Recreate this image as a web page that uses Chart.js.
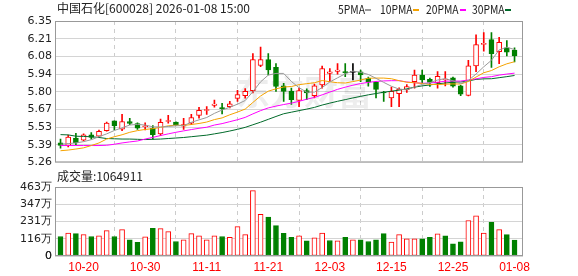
<!DOCTYPE html>
<html>
<head>
<meta charset="utf-8">
<script src="https://cdn.jsdelivr.net/npm/chart.js@4.4.1/dist/chart.umd.min.js"></script>
<style>
html, body { margin: 0; padding: 0; background: #fff; }
#wrap { position: relative; width: 578px; height: 276px; overflow: hidden; color: #222; }
#priceChart { position: absolute; left: 0; top: 0; }
#volChart { position: absolute; left: 0; top: 172px; }
.txt { position: absolute; white-space: nowrap; font-family: "Noto Sans CJK SC", sans-serif; font-size: 12px; line-height: 14px; }
.leg { transform: scaleX(0.86); transform-origin: left center; }
.dash { position: absolute; width: 6px; height: 2px; top: 9px; }
#zero { position: absolute; left: 0; top: 249px; width: 52px; text-align: right; font: 11px "DejaVu Sans"; line-height: 14px; color: #222; }
</style>
</head>
<body>
<div id="wrap">
  <canvas id="priceChart" width="578" height="172"></canvas>
  <canvas id="volChart" width="578" height="104"></canvas>
  <div class="txt" style="left:57px;top:1px;">中国石化[600028] 2026-01-08 15:00</div>
  <div class="txt" style="left:57px;top:169px;">成交量:1064911</div>
  <div id="zero"></div>
  <div id="legend"></div>
</div>
<script>
// trading days shown (MM-DD)
const DATES = ['10-15','10-16','10-17','10-20','10-21','10-22','10-23','10-24','10-27','10-28',
  '10-29','10-30','10-31','11-03','11-04','11-05','11-06','11-07','11-10','11-11',
  '11-12','11-13','11-14','11-17','11-18','11-19','11-20','11-21','11-24','11-25',
  '11-26','11-27','11-28','12-01','12-02','12-03','12-04','12-05','12-08','12-09',
  '12-10','12-11','12-12','12-15','12-16','12-17','12-18','12-19','12-22','12-23',
  '12-24','12-25','12-26','12-29','12-30','12-31','01-05','01-06','01-07','01-08'];
const AXIS_DATES = ['10-20','10-30','11-11','11-21','12-03','12-15','12-25','01-08'];

const OPEN = [5.41,5.39,5.447,5.432,5.472,5.462,5.505,5.58,5.517,5.575,
  5.56,5.535,5.523,5.48,5.575,5.57,5.54,5.563,5.623,5.66,
  5.70,5.68,5.689,5.754,5.775,5.813,6.007,6.052,5.992,5.85,
  5.807,5.737,5.813,5.775,5.858,5.946,5.962,5.96,5.954,5.958,
  5.909,5.878,5.80,5.757,5.79,5.82,5.883,5.934,5.90,5.875,
  5.895,5.911,5.85,5.777,6.004,6.17,6.206,6.113,6.143,6.125];
const HIGH = [5.44,5.47,5.485,5.48,5.49,5.51,5.57,5.58,5.63,5.60,
  5.565,5.565,5.543,5.593,5.623,5.573,5.60,5.63,5.684,5.69,
  5.74,5.715,5.73,5.815,5.83,6.098,6.148,6.098,6.022,5.87,
  5.833,5.833,5.828,5.863,6.002,5.984,6.022,6.022,6.022,5.972,
  5.917,5.882,5.807,5.84,5.835,5.86,5.972,5.972,5.91,5.96,
  5.96,5.917,5.855,6.047,6.244,6.26,6.26,6.224,6.20,6.143];
const LOW = [5.37,5.38,5.396,5.425,5.44,5.455,5.50,5.51,5.505,5.55,
  5.515,5.51,5.44,5.467,5.563,5.543,5.515,5.55,5.60,5.63,
  5.685,5.633,5.68,5.73,5.755,5.795,5.997,5.934,5.807,5.73,
  5.707,5.689,5.744,5.757,5.833,5.883,5.94,5.92,5.896,5.883,
  5.848,5.757,5.73,5.689,5.689,5.80,5.833,5.87,5.845,5.833,
  5.85,5.84,5.775,5.772,5.96,6.117,5.992,6.022,6.08,6.035];
const CLOSE = [5.39,5.455,5.411,5.472,5.452,5.50,5.563,5.543,5.575,5.56,
  5.523,5.54,5.474,5.568,5.578,5.548,5.552,5.606,5.661,5.668,
  5.71,5.675,5.711,5.782,5.807,6.052,6.052,5.972,5.845,5.807,
  5.744,5.813,5.795,5.85,5.984,5.958,5.972,5.95,5.954,5.934,
  5.878,5.822,5.795,5.807,5.825,5.845,5.934,5.896,5.877,5.924,
  5.90,5.848,5.785,6.004,6.168,6.178,6.098,6.186,6.11,6.08];
// volume in 万
const VOLUME = [131,154,150,143,131,136,170,131,177,109,
  91,129,186,184,163,97,109,150,136,109,
  136,131,125,197,143,438,279,261,204,152,
  125,136,102,122,154,104,102,125,109,109,
  97,109,150,93,143,116,116,116,125,148,
  136,82,95,238,270,154,225,177,143,106.49];

const MA5 = [5.40,5.405,5.41,5.42,5.435,5.458,5.48,5.506,5.527,5.548,
  5.553,5.548,5.534,5.533,5.537,5.542,5.544,5.569,5.588,5.606,
  5.638,5.664,5.685,5.709,5.737,5.805,5.881,5.933,5.946,5.946,
  5.884,5.836,5.801,5.802,5.837,5.88,5.912,5.943,5.964,5.954,
  5.938,5.908,5.877,5.847,5.825,5.819,5.841,5.861,5.875,5.895,
  5.906,5.889,5.867,5.892,5.941,5.997,6.047,6.127,6.148,6.13];
const MA10 = [5.35,5.355,5.363,5.372,5.39,5.41,5.44,5.458,5.473,5.492,
  5.505,5.514,5.52,5.53,5.542,5.547,5.545,5.552,5.56,5.571,
  5.59,5.603,5.627,5.648,5.671,5.722,5.772,5.809,5.827,5.841,
  5.845,5.859,5.867,5.874,5.891,5.882,5.874,5.872,5.883,5.895,
  5.909,5.91,5.91,5.905,5.89,5.878,5.874,5.869,5.861,5.86,
  5.863,5.865,5.864,5.884,5.918,5.951,5.968,5.997,6.02,6.036];
const MA20 = [5.39,5.39,5.39,5.39,5.39,5.39,5.392,5.40,5.41,5.418,
  5.425,5.44,5.453,5.467,5.48,5.492,5.503,5.513,5.523,5.531,
  5.548,5.559,5.574,5.589,5.607,5.634,5.659,5.68,5.694,5.706,
  5.717,5.731,5.747,5.761,5.781,5.802,5.823,5.84,5.855,5.868,
  5.877,5.884,5.888,5.89,5.89,5.88,5.874,5.87,5.872,5.878,
  5.886,5.887,5.887,5.895,5.904,5.915,5.921,5.933,5.941,5.948];
const MA30 = [5.474,5.472,5.462,5.46,5.458,5.452,5.444,5.442,5.44,5.44,
  5.438,5.436,5.438,5.44,5.444,5.448,5.452,5.458,5.464,5.47,
  5.48,5.49,5.502,5.515,5.53,5.55,5.57,5.592,5.614,5.635,
  5.647,5.659,5.671,5.684,5.702,5.717,5.731,5.744,5.757,5.769,
  5.781,5.791,5.801,5.809,5.817,5.827,5.84,5.85,5.857,5.866,
  5.872,5.878,5.88,5.888,5.90,5.904,5.905,5.913,5.921,5.93];

const PRICE_TICKS = ['5.26','5.39','5.53','5.67','5.80','5.94','6.08','6.21','6.35'];
const VOL_TICKS = ['0','116万','231万','347万','463万'];
const MA_NAMES = ['5PMA','10PMA','20PMA','30PMA'];
const MA_COLORS = ['#999999','#f5a300','#ff00ff','#006a2a'];

const RED = '#ff0000', GREEN = '#008000', BLACK = '#000000';
const X_MIN = -0.715, X_MAX = 60.1;

function candleColor(i) {
    if (CLOSE[i] > OPEN[i]) return RED;
    if (CLOSE[i] < OPEN[i]) return GREEN;
    return BLACK;
}

// volume bars follow close vs previous close
function volumeUp(i) {
    const ref = i > 0 ? CLOSE[i - 1] : OPEN[i];
    return CLOSE[i] >= ref;
}

const tickIdx = AXIS_DATES.map(d => DATES.indexOf(d));

function xScale(showLabels, h) {
    return {
        type: 'linear', min: X_MIN, max: X_MAX, offset: false,
        afterBuildTicks: s => { s.ticks = tickIdx.map(v => ({ value: v })); },
        afterFit: s => { s.height = h; },
        grid: { color: '#cccccc', drawTicks: false },
        border: { display: false, dash: [4, 4] },
        ticks: {
            display: showLabels, autoSkip: false, maxRotation: 0, padding: 4,
            color: RED, font: { family: 'Liberation Sans', size: 12 },
            callback: v => DATES[v] || ''
        }
    };
}

function yScale(min, max, labels) {
    const step = (max - min) / (labels.length - 1);
    return {
        position: 'left', min: min, max: max,
        afterBuildTicks: s => { s.ticks = labels.map((_, k) => ({ value: min + k * step })); },
        afterFit: s => { s.width = 55; },
        grid: { color: '#d4d4d4', drawTicks: false },
        border: { display: false },
        ticks: {
            padding: 3, color: '#222', autoSkip: false, z: 1,
            font: { family: 'DejaVu Sans', size: 11 },
            callback: (v, k) => labels[k]
        }
    };
}

const framePlugin = {
    id: 'panelFrame',
    afterDatasetsDraw(chart) {
        const { ctx, chartArea: a } = chart;
        ctx.save();
        ctx.strokeStyle = '#999999';
        ctx.lineWidth = 1;
        ctx.strokeRect(a.left + 0.5, a.top + 0.5, a.right - a.left - 1, a.bottom - a.top - 1);
        ctx.restore();
    }
};

const watermarkPlugin = {
    id: 'watermark',
    beforeDatasetsDraw(chart) {
        const ctx = chart.ctx;
        ctx.save();
        ctx.font = 'bold 34px "Noto Sans CJK SC"';
        ctx.fillStyle = 'rgba(0,0,0,0.07)';
        ctx.textBaseline = 'middle';
        ctx.fillText('东方财富', 236, 92);
        ctx.restore();
    }
};

function maDataset(values, k) {
    return {
        type: 'line', order: 1,
        data: values.map((v, i) => ({ x: i, y: v })),
        borderColor: MA_COLORS[k], borderWidth: 1,
        pointRadius: 0, tension: 0, fill: false
    };
}

const colors = CLOSE.map((_, i) => candleColor(i));

new Chart(document.getElementById('priceChart'), {
    type: 'bar',
    data: {
        datasets: [
            {
                order: 3, grouped: false, barThickness: 1,
                data: LOW.map((l, i) => ({ x: i, y: [l, HIGH[i]] })),
                backgroundColor: colors, borderWidth: 0
            },
            {
                order: 2, grouped: false, barThickness: 5, minBarLength: 1,
                data: OPEN.map((o, i) => ({ x: i, y: [o, CLOSE[i]] })),
                backgroundColor: colors.map(c => c === RED ? '#ffffff' : c),
                borderColor: colors, borderWidth: 1, borderSkipped: false
            },
            maDataset(MA5, 0), maDataset(MA10, 1), maDataset(MA20, 2), maDataset(MA30, 3)
        ]
    },
    options: {
        responsive: false, animation: false,
        layout: { padding: { top: 21, right: 55, bottom: 6, left: 0 } },
        plugins: { legend: { display: false }, tooltip: { enabled: false } },
        scales: { x: xScale(false, 0), y: yScale(5.26, 6.35, PRICE_TICKS) }
    },
    plugins: [watermarkPlugin, framePlugin]
});

const volColors = VOLUME.map((_, i) => volumeUp(i) ? RED : GREEN);

new Chart(document.getElementById('volChart'), {
    type: 'bar',
    data: {
        datasets: [{
            grouped: false, barThickness: 5,
            data: VOLUME.map((v, i) => ({ x: i, y: v })),
            backgroundColor: volColors.map(c => c === RED ? '#ffffff' : c),
            borderColor: volColors, borderWidth: 1, borderSkipped: false
        }]
    },
    options: {
        responsive: false, animation: false,
        layout: { padding: { top: 15, right: 55, bottom: 0, left: 0 } },
        plugins: { legend: { display: false }, tooltip: { enabled: false } },
        scales: { x: xScale(true, 20), y: yScale(0, 462.8, VOL_TICKS) }
    },
    plugins: [framePlugin]
});

// the zero label of the volume axis, kept as page text so it always shows
document.getElementById('zero').textContent = VOL_TICKS[0];

// legend row at the top right
const LEGEND_X = [338, 380, 426, 472];
const DASH_X = [365, 413, 460, 505];
const legend = document.getElementById('legend');
MA_NAMES.forEach((name, k) => {
    const t = document.createElement('div');
    t.className = 'txt leg';
    t.style.left = LEGEND_X[k] + 'px';
    t.style.top = '2px';
    t.textContent = name;
    legend.appendChild(t);
    const d = document.createElement('div');
    d.className = 'dash';
    d.style.left = DASH_X[k] + 'px';
    d.style.background = MA_COLORS[k];
    legend.appendChild(d);
});
</script>
</body>
</html>
